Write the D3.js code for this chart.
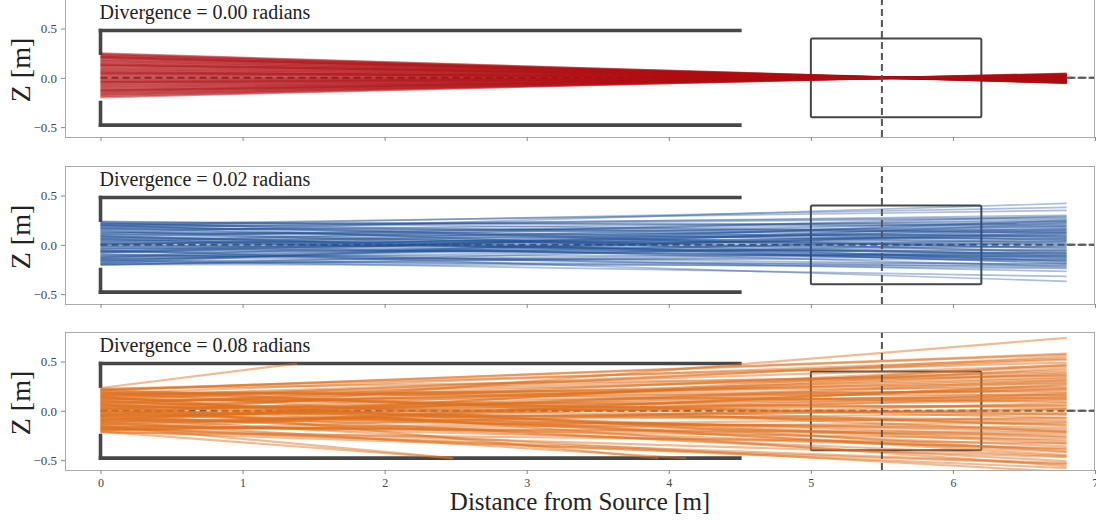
<!DOCTYPE html>
<html><head><meta charset="utf-8">
<script src="https://cdn.jsdelivr.net/npm/d3@7"></script>
<style>body{margin:0;background:#fff}svg{display:block}</style>
</head><body><svg id="c" width="1096" height="521"></svg>
<script>
// ---------- data ----------
const xTicks = [0, 1, 2, 3, 4, 5, 6, 7];
const yTicks = [-0.5, 0, 0.5];
const divergences = ["0.00", "0.02", "0.08"];
const rayEndX = 6.8;          // m, where rays stop
const wallEndX = 4.5;         // m, length of the source housing
const wallZ = 0.48;           // m, housing half height
const apertureZ = 0.25;       // m, aperture half height
const boxX = [5.0, 6.2];      // m, detector box
const boxZ = [-0.4, 0.4];
const targetX = 5.5;          // m, focal plane

const redStart = [0.248,0.241,0.232,0.226,0.214,0.205,0.197,0.188,0.176,0.169,0.158,0.149,0.137,0.128,0.119,0.108,0.097,0.089,0.076,0.068,0.057,0.046,0.038,0.027,0.016,0.004,-0.008,-0.017,-0.029,-0.038,-0.049,-0.061,-0.072,-0.081,-0.093,-0.102,-0.114,-0.123,-0.134,-0.146,-0.155,-0.166,-0.174,-0.186,-0.197,0.212,0.133,0.052,-0.044,-0.129];
const redEnd = [-0.052,-0.048,-0.050,-0.045,-0.046,-0.041,-0.043,-0.038,-0.039,-0.034,-0.035,-0.030,-0.031,-0.026,-0.027,-0.021,-0.022,-0.017,-0.018,-0.013,-0.014,-0.008,-0.009,-0.004,-0.005,0.001,0.000,0.005,0.004,0.009,0.008,0.014,0.013,0.019,0.018,0.023,0.022,0.028,0.027,0.033,0.032,0.037,0.036,0.041,0.044,-0.049,-0.025,-0.012,0.011,0.031];

const blueStart = [0.238,0.229,0.221,0.212,0.203,0.195,0.186,0.174,0.166,0.157,0.146,0.138,0.127,0.118,0.109,0.098,0.087,0.079,0.068,0.059,0.048,0.037,0.029,0.018,0.007,-0.004,-0.013,-0.024,-0.035,-0.043,-0.054,-0.066,-0.074,-0.085,-0.097,-0.106,-0.117,-0.126,-0.137,-0.148,-0.157,-0.168,-0.176,-0.187,-0.198,-0.206,0.192,0.061,-0.071,-0.152,
  0.233,0.216,0.199,0.181,0.163,0.141,0.122,0.103,0.084,0.064,0.043,0.023,0.002,-0.019,-0.039,-0.058,-0.079,-0.101,-0.121,-0.142,-0.162,-0.181,-0.201,0.171,0.091,0.014,-0.062,-0.133,0.208,-0.192];
const blueEnd = [0.12,-0.08,0.21,0.05,-0.17,0.28,0.02,-0.11,0.15,-0.03,0.24,-0.19,0.09,0.42,-0.06,0.18,-0.14,0.26,0.01,-0.22,0.11,-0.09,0.29,0.04,-0.16,0.20,-0.02,0.14,-0.12,0.07,-0.37,0.23,-0.05,0.17,-0.20,0.10,-0.10,0.25,-0.15,0.06,-0.32,0.13,-0.07,0.22,-0.21,0.03,0.38,-0.13,0.16,-0.24,
  0.19,0.08,-0.04,0.27,0.13,-0.12,0.06,0.22,-0.18,0.16,0.00,-0.09,0.24,-0.14,0.10,-0.06,0.19,-0.23,0.04,-0.01,0.15,-0.19,-0.08,0.30,-0.16,0.08,-0.27,0.12,0.35,-0.11];

const orangeStart = [0.232,0.224,0.215,0.207,0.198,0.189,-0.052,0.171,0.162,0.151,0.143,0.134,0.122,0.114,0.105,0.094,0.086,0.075,0.066,0.057,0.046,0.038,0.027,0.018,0.009,-0.003,-0.012,-0.021,-0.032,-0.041,-0.052,-0.061,-0.072,-0.083,-0.091,-0.102,-0.111,-0.122,-0.133,-0.141,-0.152,-0.161,-0.172,-0.183,-0.191,-0.202,-0.211,-0.218,0.205,0.128,0.051,-0.026,-0.097,-0.167,0.181,0.072,-0.057,-0.146,0.142,-0.188,
  0.221,0.196,0.167,0.139,0.111,0.083,0.061,0.034,0.012,-0.009,-0.036,-0.064,-0.088,-0.117,-0.138,-0.163,-0.194,-0.208,0.154,0.098,0.022,-0.047,-0.108,0.176,-0.174];
const orangeEnd = [1.45,0.36,-0.21,0.57,0.09,-0.41,0.74,0.16,-0.07,0.46,-0.56,0.28,0.03,0.52,-0.31,0.21,-0.14,0.41,-0.88,0.55,-0.02,0.33,-0.36,0.12,-0.51,0.23,-0.09,0.38,-0.27,0.06,-0.46,0.18,-0.62,0.29,-0.17,0.01,-0.72,0.47,-0.38,0.14,-1.05,-0.24,0.26,-0.53,-0.12,0.08,-0.95,-0.33,0.58,-0.04,0.31,-0.21,0.43,-0.58,0.19,-0.42,0.11,-0.29,0.36,-0.07,
  0.49,-0.15,0.24,-0.45,0.13,0.34,-0.26,0.05,0.45,-0.11,0.22,-0.39,0.31,-0.03,0.17,-0.22,0.27,-0.54,0.39,-0.33,0.15,-0.19,0.02,0.53,-0.47];

const series = [
  {start: redStart, end: redEnd, color: "#b00d12", opacity: 0.45, width: 2.2},
  {start: blueStart, end: blueEnd, color: "#24549a", opacity: 0.38, width: 1.7},
  {start: orangeStart, end: orangeEnd, color: "#e0701f", opacity: 0.48, width: 2.2}
];

// ---------- layout ----------
const svg = d3.select("#c");
const left = 65, right = 1095;
const panelTops = [-1, 166, 332];
const panelH = 138;
const font = "'Liberation Serif', 'DejaVu Serif', serif";

svg.append("rect").attr("width", 1096).attr("height", 521).attr("fill", "#fff");

const x = d3.scaleLinear().domain([-0.25, 7]).range([left, right]);

// a ray that meets the housing wall before its end is absorbed there
function rayPath(z0, z1) {
  const m = (z1 - z0) / rayEndX;
  const zWall = z0 + m * wallEndX;
  if (Math.abs(zWall) > wallZ) {
    const zw = zWall > 0 ? wallZ : -wallZ;
    const xHit = (zw - z0) / m;
    return [[0, z0], [xHit, zw]];
  }
  return [[0, z0], [rayEndX, z1]];
}

series.forEach((s, i) => {
  const top = panelTops[i];
  const y = d3.scaleLinear().domain([-0.6, 0.8]).range([top + panelH, top]);
  const g = svg.append("g");
  const clipId = "clip" + i;
  svg.append("clipPath").attr("id", clipId).append("rect")
    .attr("x", left).attr("y", top).attr("width", right - left).attr("height", panelH);
  const pg = g.append("g").attr("clip-path", `url(#${clipId})`);
  const line = d3.line().x(d => x(d[0])).y(d => y(d[1]));

  // housing bracket
  const wall = [
    [[0, wallZ], [wallEndX, wallZ]],
    [[0, -wallZ], [wallEndX, -wallZ]],
    [[0, wallZ], [0, apertureZ]],
    [[0, -wallZ], [0, -apertureZ]]
  ];
  pg.selectAll("path.wall").data(wall).join("path").attr("class", "wall")
    .attr("d", line).attr("stroke", "#474747").attr("stroke-width", 3.6)
    .attr("fill", "none").attr("stroke-linecap", "square");

  // detector box
  pg.append("rect")
    .attr("x", x(boxX[0])).attr("y", y(boxZ[1]))
    .attr("width", x(boxX[1]) - x(boxX[0])).attr("height", y(boxZ[0]) - y(boxZ[1]))
    .attr("rx", 1.5).attr("fill", "none").attr("stroke", "#474747").attr("stroke-width", 2);

  // beam axis (dashed)
  pg.append("path").attr("d", line([[0, 0], [7, 0]]))
    .attr("stroke", "#5a5a5a").attr("stroke-width", 2).attr("stroke-dasharray", "7,4").attr("fill", "none");

  // rays
  const rays = s.start.map((z0, k) => rayPath(z0, s.end[k]));
  pg.selectAll("path.ray").data(rays).join("path").attr("class", "ray")
    .attr("d", line).attr("stroke", s.color).attr("stroke-opacity", s.opacity)
    .attr("stroke-width", s.width).attr("fill", "none");

  // beam axis right of the beam
  pg.append("path").attr("d", line([[rayEndX, 0], [7, 0]]))
    .attr("stroke", "#5a5a5a").attr("stroke-width", 2).attr("stroke-dasharray", "7,4").attr("fill", "none");

  // focal plane
  pg.append("path").attr("d", line([[targetX, -0.6], [targetX, 0.8]]))
    .attr("stroke", "#555").attr("stroke-width", 2).attr("stroke-dasharray", "7,4").attr("fill", "none");

  // spines
  g.append("rect").attr("x", left + 0.5).attr("y", top + 0.5)
    .attr("width", right - left - 1).attr("height", panelH)
    .attr("fill", "none").attr("stroke", "#aaa").attr("stroke-width", 1);

  // axes
  const ya = g.append("g").attr("transform", `translate(${left},0)`)
    .call(d3.axisLeft(y).tickValues(yTicks).tickSize(4).tickPadding(4)
      .tickFormat(d => d === 0 ? "0.0" : d3.format(".1f")(d)));
  ya.select(".domain").remove();
  ya.selectAll("line").attr("stroke", "#888");
  ya.selectAll("text").attr("font-family", font).attr("font-size", 13).attr("fill", "#444");

  const xa = g.append("g").attr("transform", `translate(0,${top + panelH})`)
    .call(d3.axisBottom(x).tickValues(xTicks).tickSize(4).tickPadding(4)
      .tickFormat(i === 2 ? d3.format("d") : () => ""));
  xa.select(".domain").remove();
  xa.selectAll("line").attr("stroke", "#888");
  xa.selectAll("text").attr("font-family", font).attr("font-size", 12).attr("fill", "#444");

  // title
  g.append("text").attr("x", x(0) - 1).attr("y", top + 20)
    .attr("font-family", font).attr("font-size", 20).attr("fill", "#222")
    .text(`Divergence = ${divergences[i]} radians`);

  // y label
  g.append("text")
    .attr("transform", `translate(30,${top + panelH / 2 + 2}) rotate(-90)`)
    .attr("text-anchor", "middle").attr("font-family", font).attr("font-size", 28).attr("fill", "#222")
    .text("Z [m]");
});

svg.append("text").attr("x", (left + right) / 2).attr("y", 510)
  .attr("text-anchor", "middle").attr("font-family", font).attr("font-size", 25).attr("fill", "#222")
  .text("Distance from Source [m]");
</script></body></html>
